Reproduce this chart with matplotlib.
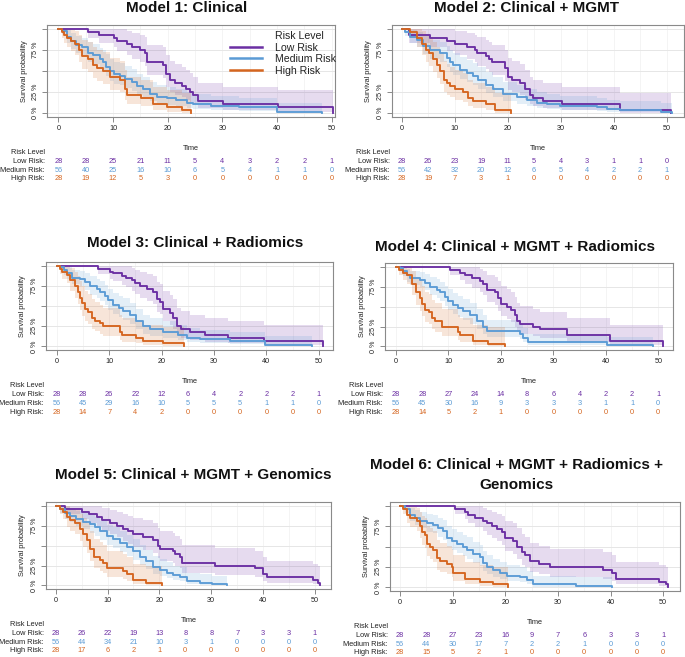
import numpy as np
import matplotlib
matplotlib.use("Agg")
import matplotlib.pyplot as plt
import matplotlib.transforms as mtransforms
from matplotlib.lines import Line2D

plt.rcParams['font.family'] = ['Liberation Sans', 'DejaVu Sans']

# ---------------------------------------------------------
# DATA
# ---------------------------------------------------------

groups = ["Low Risk", "Medium Risk", "High Risk"]
group_n = [28, 56, 28]
table_times = [0, 5, 10, 15, 20, 25, 30, 35, 40, 45, 50]

titles = [
    "Model 1: Clinical",
    "Model 2: Clinical + MGMT",
    "Model 3: Clinical + Radiomics",
    "Model 4: Clinical + MGMT + Radiomics",
    "Model 5: Clinical + MGMT + Genomics",
    "Model 6: Clinical + MGMT + Radiomics +\nGenomics",
]

# step times / survival after each step
m1_low_t = [5.5, 7.5, 10.2, 10.8, 12.5, 13.4, 15.0, 15.8, 16.3, 19.2, 19.7, 20.4, 21.3, 22.6, 23.3, 24.1, 24.7, 25.6, 30.2, 40.2, 50.3]
m1_low_s = [.964, .929, .893, .857, .821, .786, .75, .714, .607, .571, .464, .393, .357, .321, .286, .25, .214, .143, .107, .071, 0]
m1_med_t = [0.6, 1.5, 2.4, 3.3, 4.3, 5.5, 6.4, 7.6, 8.2, 8.8, 9.5, 10.1, 11.3, 12.2, 13.4, 14.3, 15.5, 16.8, 18.0, 19.8, 21.6, 23.5, 24.7, 28.0, 33.0, 40.0, 48.3]
m1_med_s = [.982, .911, .857, .813, .786, .714, .696, .643, .607, .554, .5, .464, .446, .411, .375, .321, .286, .232, .196, .179, .161, .125, .107, .089, .071, .018, 0]
m1_high_t = [0.6, 1.0, 1.5, 2.3, 3.0, 3.7, 4.3, 5.5, 6.3, 7.0, 8.2, 9.5, 11.3, 12.2, 12.5, 15.2, 17.4, 19.8, 22.6, 24.3]
m1_high_s = [.964, .929, .893, .857, .821, .75, .679, .643, .571, .536, .5, .429, .393, .286, .214, .179, .107, .071, .036, 0]

m2_low_t = [1.4, 5.3, 8.5, 10.1, 12.3, 13.8, 14.2, 16.0, 16.4, 17.0, 19.5, 20.1, 20.8, 22.3, 23.3, 24.2, 24.8, 26.7, 30.2, 41.2, 50.8]
m2_low_s = [.929, .893, .857, .821, .786, .75, .714, .679, .643, .607, .536, .429, .393, .357, .286, .214, .179, .143, .107, .036, 0]
m2_med_t = [0.6, 1.6, 2.8, 4.1, 5.3, 7.2, 8.5, 9.1, 9.7, 11.0, 12.3, 13.5, 14.5, 16.0, 17.3, 19.2, 21.7, 23.6, 25.5, 27.4, 29.9, 36.8, 38.7, 41.2, 49.0, 51.0]
m2_med_s = [.964, .911, .875, .804, .75, .714, .661, .607, .571, .518, .482, .446, .393, .339, .286, .232, .196, .161, .125, .107, .089, .071, .054, .036, .018, 0]
m2_high_t = [1.6, 2.8, 3.8, 4.5, 5.2, 6.0, 6.6, 7.2, 7.9, 8.5, 9.1, 10.1, 11.6, 12.6, 13.5, 16.0, 17.6, 20.7]
m2_high_s = [.964, .893, .821, .75, .714, .643, .571, .5, .393, .357, .321, .286, .25, .179, .143, .107, .036, 0]

m3_low_t = [7.9, 10.2, 10.8, 12.4, 13.3, 14.3, 14.9, 15.9, 17.2, 18.4, 19.1, 19.7, 20.3, 21.6, 22.2, 22.9, 23.8, 25.4, 28.3, 32.7, 39.5, 50.8]
m3_low_s = [.964, .929, .911, .875, .857, .821, .786, .75, .714, .679, .589, .554, .464, .411, .357, .25, .214, .179, .143, .107, .071, 0]
m3_med_t = [0.6, 1.3, 1.9, 2.9, 4.4, 5.4, 6.4, 7.6, 8.3, 9.2, 9.8, 10.8, 11.8, 12.7, 13.9, 15.2, 16.5, 17.8, 20.3, 23.2, 24.8, 27.3, 33.0, 39.7, 48.6]
m3_med_s = [.982, .946, .911, .857, .839, .804, .75, .714, .679, .625, .571, .518, .482, .446, .393, .321, .25, .214, .179, .143, .107, .089, .071, .018, 0]
m3_high_t = [0.6, 1.0, 1.9, 2.5, 3.5, 4.1, 4.4, 4.8, 5.4, 6.0, 6.7, 7.3, 8.3, 8.9, 12.1, 12.4, 15.2, 16.5, 20.3, 24.3]
m3_high_s = [.964, .929, .893, .821, .75, .679, .607, .536, .464, .429, .357, .321, .286, .25, .179, .143, .107, .071, .036, 0]

m4_low_t = [10.3, 12.2, 13.2, 14.4, 16.0, 16.6, 17.3, 18.9, 19.5, 20.1, 21.1, 22.0, 22.7, 23.0, 23.6, 26.2, 27.5, 32.5, 40.8, 50.8]
m4_low_s = [.964, .929, .893, .857, .821, .786, .714, .679, .607, .536, .5, .464, .393, .321, .286, .25, .214, .143, .071, 0]
m4_med_t = [0.7, 1.4, 2.0, 2.7, 4.6, 5.5, 6.5, 7.8, 8.4, 9.3, 10.0, 10.9, 11.9, 12.8, 14.1, 15.4, 16.6, 17.3, 23.6, 24.3, 25.2, 40.2, 49.0]
m4_med_s = [.982, .946, .893, .857, .839, .804, .75, .714, .679, .625, .571, .518, .482, .446, .393, .321, .25, .196, .161, .107, .054, .018, 0]
m4_high_t = [0.6, 1.4, 2.0, 3.0, 3.9, 4.6, 4.9, 5.5, 6.2, 6.8, 7.4, 8.7, 11.9, 12.2, 14.7, 17.6, 20.7]
m4_high_s = [.964, .929, .893, .786, .679, .607, .536, .464, .429, .357, .321, .25, .179, .143, .071, .036, 0]

m5_low_t = [1.8, 5.0, 6.5, 7.9, 9.0, 10.5, 11.8, 13.0, 14.0, 15.0, 16.9, 18.8, 19.8, 20.1, 22.7, 23.0, 24.0, 24.3, 30.7, 38.5, 40.0, 40.7, 49.7, 50.6, 51.0]
m5_low_s = [.964, .929, .893, .857, .821, .786, .75, .714, .679, .643, .607, .571, .5, .464, .429, .393, .357, .286, .25, .214, .143, .107, .071, .036, 0]
m5_med_t = [0.8, 1.8, 2.8, 4.0, 5.3, 6.6, 7.6, 8.5, 9.8, 11.1, 12.4, 13.7, 15.0, 16.3, 17.5, 18.8, 20.1, 21.4, 22.7, 24.0, 25.3, 27.8, 30.2, 33.0]
m5_med_s = [.964, .911, .875, .839, .804, .768, .732, .679, .625, .589, .536, .482, .429, .357, .304, .232, .196, .161, .125, .107, .054, .036, .018, 0]
m5_high_t = [0.8, 1.5, 2.1, 2.8, 3.7, 4.7, 5.3, 6.0, 6.6, 7.3, 8.5, 9.2, 9.8, 13.0, 13.7, 15.0, 17.5, 20.6]
m5_high_s = [.964, .929, .857, .821, .786, .714, .643, .571, .464, .357, .321, .286, .214, .179, .143, .071, .036, 0]

m6_low_t = [10.4, 12.3, 13.0, 14.2, 15.8, 16.5, 17.4, 18.4, 19.3, 19.9, 21.5, 22.2, 23.1, 23.7, 24.7, 26.5, 28.5, 38.6, 40.2, 41.0, 49.3, 50.5, 51.0]
m6_low_s = [.964, .929, .893, .857, .821, .786, .75, .714, .679, .607, .571, .5, .429, .393, .321, .286, .25, .214, .179, .107, .071, .036, 0]
m6_med_t = [0.9, 1.9, 2.8, 3.8, 5.1, 6.3, 7.3, 8.2, 8.9, 9.8, 10.8, 12.0, 12.7, 13.9, 15.2, 15.8, 16.5, 17.7, 19.0, 20.3, 22.8, 24.1, 25.3, 33.5, 40.2]
m6_med_s = [.964, .893, .857, .821, .786, .768, .732, .696, .607, .571, .536, .5, .464, .411, .375, .304, .25, .214, .179, .143, .125, .089, .036, .018, 0]
m6_high_t = [0.6, 1.3, 1.9, 3.2, 3.8, 4.1, 4.7, 5.1, 5.7, 6.3, 7.0, 7.6, 8.9, 9.8, 10.1, 12.3, 15.2, 17.7, 20.6]
m6_high_s = [.964, .893, .857, .821, .75, .679, .643, .536, .5, .464, .357, .321, .286, .25, .179, .107, .071, .036, 0]

# numbers at risk
m1_risk = [[28, 28, 25, 21, 11, 5, 4, 3, 2, 2, 1],
           [56, 40, 25, 16, 10, 6, 5, 4, 1, 1, 0],
           [28, 19, 12, 5, 3, 0, 0, 0, 0, 0, 0]]
m2_risk = [[28, 26, 23, 19, 11, 5, 4, 3, 1, 1, 0],
           [56, 42, 32, 20, 12, 6, 5, 4, 2, 2, 1],
           [28, 19, 7, 3, 1, 0, 0, 0, 0, 0, 0]]
m3_risk = [[28, 28, 26, 22, 12, 6, 4, 2, 2, 2, 1],
           [56, 45, 29, 16, 10, 5, 5, 5, 1, 1, 0],
           [28, 14, 7, 4, 2, 0, 0, 0, 0, 0, 0]]
m4_risk = [[28, 28, 27, 24, 14, 8, 6, 4, 2, 2, 1],
           [56, 45, 30, 16, 9, 3, 3, 3, 1, 1, 0],
           [28, 14, 5, 2, 1, 0, 0, 0, 0, 0, 0]]
m5_risk = [[28, 26, 22, 19, 13, 8, 8, 7, 3, 3, 1],
           [56, 44, 34, 21, 10, 3, 1, 0, 0, 0, 0],
           [28, 17, 6, 2, 1, 0, 0, 0, 0, 0, 0]]
m6_risk = [[28, 28, 27, 23, 16, 9, 7, 6, 3, 3, 1],
           [56, 44, 30, 17, 7, 2, 2, 1, 0, 0, 0],
           [28, 15, 5, 2, 1, 0, 0, 0, 0, 0, 0]]

curves = [
    [(m1_low_t, m1_low_s), (m1_med_t, m1_med_s), (m1_high_t, m1_high_s)],
    [(m2_low_t, m2_low_s), (m2_med_t, m2_med_s), (m2_high_t, m2_high_s)],
    [(m3_low_t, m3_low_s), (m3_med_t, m3_med_s), (m3_high_t, m3_high_s)],
    [(m4_low_t, m4_low_s), (m4_med_t, m4_med_s), (m4_high_t, m4_high_s)],
    [(m5_low_t, m5_low_s), (m5_med_t, m5_med_s), (m5_high_t, m5_high_s)],
    [(m6_low_t, m6_low_s), (m6_med_t, m6_med_s), (m6_high_t, m6_high_s)],
]
risks = [m1_risk, m2_risk, m3_risk, m4_risk, m5_risk, m6_risk]

# ---------------------------------------------------------
# STYLE / LAYOUT (pixels in a 685x657 canvas)
# ---------------------------------------------------------

W, H = 685, 657
colors = ["#6b2fa3", "#5b9bd5", "#d5651f"]
band_alpha = 0.17
grid_col = "#e6e6e6"
frame_col = "#8a8a8a"

# left, right, top, bottom of each plotting box
boxes = [(47, 335, 25, 117), (392, 684, 25, 117),
         (46, 333, 262, 350), (385, 673, 263, 350),
         (46, 331, 502, 589), (390, 680, 502, 591)]
xlims = [(-2.07, 50.6), (-1.83, 53.3), (-2.04, 52.7),
         (-2.1, 52.8), (-1.87, 53.1), (-1.9, 53.2)]
title_pos = [(187, 8), (526, 8), (195, 243), (515, 247), (193, 475), (516, 475)]
# table rows offsets below plot box (px)
row_off = [35.5, 44.5, 53.3, 62.0]


def km_band(s, n):
    s = np.asarray(s, float)
    lo = np.empty_like(s)
    hi = np.empty_like(s)
    for i, v in enumerate(s):
        if v <= 0:
            lo[i], hi[i] = lo[i - 1], hi[i - 1]
            continue
        se = np.sqrt((1 - v) / (n * v))
        lo[i] = v * np.exp(-1.96 * se)
        hi[i] = min(1.0, v * np.exp(1.96 * se))
    return lo, hi


def draw_panel(fig, k):
    L, R, T, B = boxes[k]
    ax = fig.add_axes([L / W, 1 - B / H, (R - L) / W, (B - T) / H])
    ax_h = B - T

    for j, (t, s) in enumerate(curves[k]):
        x = np.array([0.0] + list(t))
        y = np.array([1.0] + list(s))
        lo, hi = km_band(y, group_n[j])
        ax.fill_between(x, lo, hi, step="post", color=colors[j],
                        alpha=band_alpha, linewidth=0, zorder=2)
        ax.plot(x, y, drawstyle="steps-post", color=colors[j], lw=1.35,
                zorder=3, label=groups[j])

    ax.set_xlim(*xlims[k])
    ax.set_ylim(-0.045, 1.05)
    ax.set_xticks([0, 10, 20, 30, 40, 50])
    ax.set_xticks([5, 15, 25, 35, 45], minor=True)
    ax.set_yticks([0, 0.25, 0.5, 0.75, 1.0])
    ax.set_yticklabels(["0 %", "25 %", "", "75 %", ""], rotation=90, va="center")
    ax.tick_params(axis="both", labelsize=5.2, colors=frame_col, labelcolor="#222222",
                   length=3.5, width=0.7, pad=2.5)
    ax.tick_params(axis="x", which="minor", length=0)
    ax.grid(True, axis="y", color=grid_col, lw=0.7, zorder=0)
    ax.grid(True, axis="x", which="both", color="#f3f3f3", lw=0.6, zorder=0)
    ax.set_axisbelow(True)
    for sp in ax.spines.values():
        sp.set_color(frame_col)
        sp.set_linewidth(0.8)

    ax.set_ylabel("Survival probability", fontsize=5.3, color="#222222", labelpad=3)
    ax.set_xlabel("Time", fontsize=5.3, color="#222222", labelpad=9)

    # risk table
    tr = mtransforms.blended_transform_factory(ax.transData, ax.transAxes)
    lab_tr = mtransforms.offset_copy(ax.transAxes, fig=fig, x=-2, units="dots")
    ax.text(0, -row_off[0] / ax_h, "Risk Level", transform=lab_tr,
            ha="right", va="center", fontsize=5.3, color="#222222")
    for j in range(3):
        yy = -row_off[j + 1] / ax_h
        ax.text(0, yy, groups[j] + ":", transform=lab_tr, ha="right", va="center",
                fontsize=5.3, color="#222222")
        for tt, val in zip(table_times, risks[k][j]):
            ax.text(tt, yy, str(val), transform=tr, ha="center", va="center",
                    fontsize=5.3, color=colors[j], clip_on=False)

    tx, ty = title_pos[k]
    fig.text(tx / W, 1 - ty / H, titles[k], ha="center", va="center",
             fontsize=11, fontweight="bold", color="#111111", linespacing=1.5)
    return ax


fig = plt.figure(figsize=(W / 100, H / 100), dpi=100)
axes = [draw_panel(fig, k) for k in range(6)]

# legend in the first panel
handles = [Line2D([], [], color="none")] + [Line2D([], [], color=c, lw=1.8) for c in colors]
labels = ["Risk Level"] + groups
L, R, T, B = boxes[0]
leg = axes[0].legend(handles, labels, loc="upper left", frameon=False,
                     bbox_to_anchor=((230 - L) / (R - L), (B - 31) / (B - T)),
                     borderaxespad=0, borderpad=0, fontsize=7.6,
                     handlelength=3.0, handletextpad=1.3, labelspacing=0.15)
for txt in leg.get_texts():
    txt.set_color("#222222")

fig.savefig("out.png", dpi=100)
